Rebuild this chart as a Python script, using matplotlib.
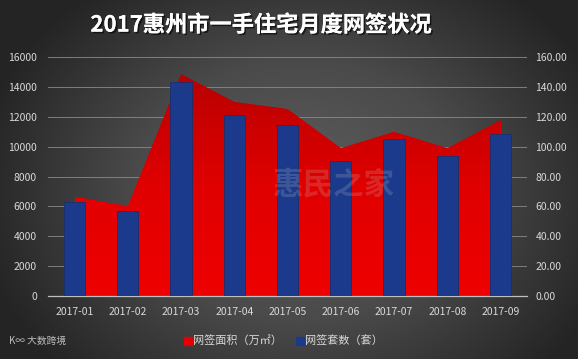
import matplotlib
matplotlib.use('Agg')

import matplotlib.pyplot as plt
import matplotlib.patheffects as pe
import numpy as np
from matplotlib.colors import LinearSegmentedColormap

plt.rcParams['font.family'] = ['Noto Sans CJK SC', 'DejaVu Sans']

months = ['2017-01', '2017-02', '2017-03', '2017-04', '2017-05',
          '2017-06', '2017-07', '2017-08', '2017-09']
area = [6650, 6020, 14860, 13000, 12520, 9900, 11000, 9900, 11780]
units = [62.7, 56.9, 143.5, 121.0, 114.5, 90.4, 105.0, 93.7, 108.4]
title = '2017惠州市一手住宅月度网签状况'
labelArea = '网签面积（万㎡）'
labelUnits = '网签套数（套）'

TICK_COLOR = '#d9d9d9'
RED = '#e30000'
BLUE = '#1b3a8c'

fig = plt.figure(figsize=(5.78, 3.59), dpi=100)

# radial grey background
bg = fig.add_axes([0, 0, 1, 1], zorder=-10)
yy, xx = np.mgrid[0:359, 0:578]
r = np.sqrt(((xx - 300) / 330.0) ** 2 + ((yy - 190) / 260.0) ** 2)
bgCmap = LinearSegmentedColormap.from_list('bg', ['#5e5e5e', '#4a4a4a', '#242424'])
bg.imshow(np.clip(r, 0, 1), cmap=bgCmap, aspect='auto', vmin=0, vmax=1)
bg.axis('off')

ax = fig.add_axes([0.083, 0.1755, 0.829, 0.6655])
ax.patch.set_alpha(0)
x = np.arange(len(months))

# area with vertical gradient
poly = ax.fill_between(x, 0, area, color=RED, lw=0, zorder=2)
redCmap = LinearSegmentedColormap.from_list('red', ['#ee0000', '#e00000', '#b80000'])
grad = np.linspace(0, 1, 256).reshape(-1, 1)
img = ax.imshow(grad, cmap=redCmap, aspect='auto', origin='lower',
                extent=[0, len(months) - 1, 0, max(area)], zorder=2.5)
img.set_clip_path(poly.get_paths()[0], transform=ax.transData)

ax.set_xlim(-0.5, len(months) - 0.5)
ax.set_ylim(0, 16000)
ax.set_yticks(np.arange(0, 16001, 2000))
ax.grid(axis='y', color='#8a8a8a', lw=0.6, zorder=0)
ax.set_axisbelow(True)
ax.set_xticks(x)
ax.set_xticklabels(months)

ax2 = ax.twinx()
ax2.bar(x, units, width=0.4, color=BLUE, edgecolor='#16306f', lw=0.6, zorder=3)
ax2.set_ylim(0, 160)
ax2.set_yticks(np.arange(0, 161, 20))
ax2.set_yticklabels([f'{v:.2f}' for v in np.arange(0, 161, 20)])

for a in (ax, ax2):
    for s in a.spines.values():
        s.set_visible(False)
    a.tick_params(length=0, colors=TICK_COLOR, labelsize=7.5)
ax.spines['bottom'].set_visible(True)
ax.spines['bottom'].set_color('#bfbfbf')
ax.spines['bottom'].set_linewidth(0.9)
ax.tick_params(axis='y', pad=8)
ax.tick_params(axis='x', pad=8)
ax2.tick_params(axis='y', pad=6)

# watermark
fig.text(0.578, 0.485, '惠民之家', color='#c8c8c8', alpha=0.2, fontsize=22,
         fontweight='bold', ha='center', va='center')

fig.text(0.452, 0.93, title, color='white', fontsize=16, fontweight='bold',
         ha='center', va='center',
         path_effects=[pe.withSimplePatchShadow(offset=(1.2, -1.2),
                                                shadow_rgbFace='black', alpha=0.6),
                       pe.Normal()])

# legend
fig.patches.append(plt.Rectangle((0.318, 0.04), 0.014, 0.022, color=RED,
                                 transform=fig.transFigure, figure=fig))
fig.text(0.334, 0.051, labelArea, color=TICK_COLOR, fontsize=8, va='center')
fig.patches.append(plt.Rectangle((0.512, 0.04), 0.014, 0.022, color=BLUE,
                                 transform=fig.transFigure, figure=fig))
fig.text(0.528, 0.051, labelUnits, color=TICK_COLOR, fontsize=8, va='center')

fig.text(0.015, 0.05, 'K∞ 大数跨境', color='#bdbdbd', fontsize=7, va='center')

fig.savefig('out.png', dpi=100)
